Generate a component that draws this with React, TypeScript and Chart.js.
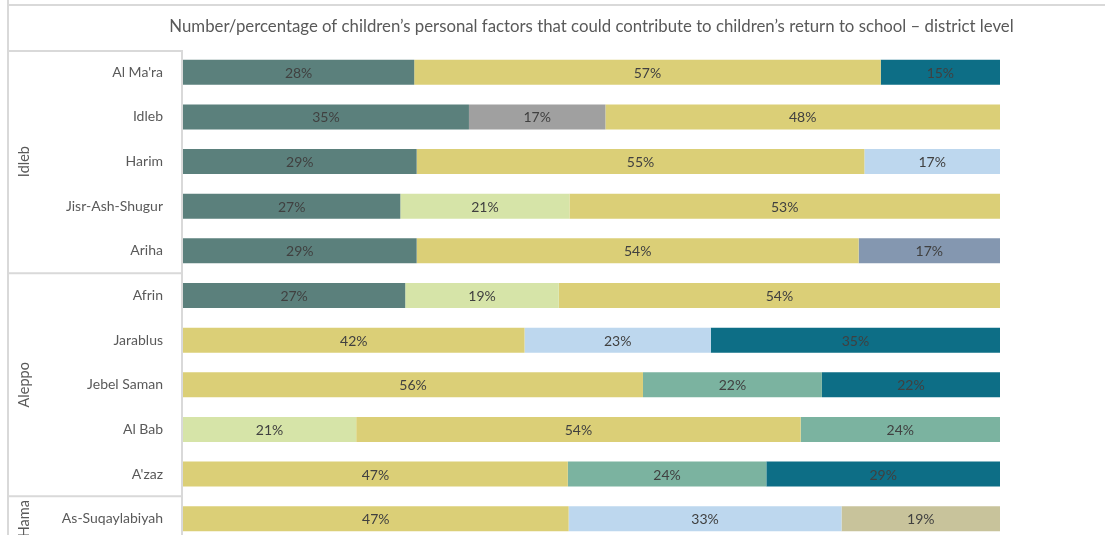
import React, { useEffect, useRef } from "react";
import { Chart, registerables } from "chart.js";

Chart.register(...registerables);

const titleText =
  "Number/percentage of children’s personal factors that could contribute to children’s return to school – district level";

const districts = [
  "Al Ma'ra",
  "Idleb",
  "Harim",
  "Jisr-Ash-Shugur",
  "Ariha",
  "Afrin",
  "Jarablus",
  "Jebel Saman",
  "Al Bab",
  "A'zaz",
  "As-Suqaylabiyah",
];

const governorates = ["Idleb", "Aleppo", "Hama"];
const governorateFirst = [0, 5, 10];
const governorateLast = [4, 9, 10];

// Share (%) of each factor per district, in stacking order
const factorTealGrey = [28.3, 35.0, 28.6, 26.6, 28.6, 27.2, null, null, null, null, null];
const factorGrey = [null, 16.7, null, null, null, null, null, null, null, null, null];
const factorLightGreen = [null, null, null, 20.7, null, 18.8, null, null, 21.2, null, null];
const factorYellow = [57.1, 48.3, 54.8, 52.7, 54.1, 54.0, 41.8, 56.3, 54.4, 47.1, 47.2];
const factorLightBlue = [null, null, 16.6, null, null, null, 22.8, null, null, null, 33.4];
const factorSlate = [null, null, null, null, 17.3, null, null, null, null, null, null];
const factorGreen = [null, null, null, null, null, null, null, 21.9, 24.4, 24.3, null];
const factorDarkTeal = [14.6, null, null, null, null, null, 35.4, 21.8, null, 28.6, null];
const factorKhaki = [null, null, null, null, null, null, null, null, null, null, 19.4];

const seriesNames = ["Factor 1","Factor 2","Factor 3","Factor 4","Factor 5","Factor 6","Factor 7","Factor 8","Factor 9"];
const seriesValues = [factorTealGrey, factorGrey, factorLightGreen, factorYellow, factorLightBlue, factorSlate, factorGreen, factorDarkTeal, factorKhaki];
const seriesColors = ["#5b807c","#a0a0a0","#d6e4a8","#dbcf77","#bdd7ee","#8497b0","#7bb3a0","#0d6e86","#c8c39b"];

const FONT = "Lato, 'Open Sans', sans-serif";

const framePlugin = {
  id: "frame",
  beforeDraw(chart: any) {
    const ctx = chart.ctx;
    const area = chart.chartArea;
    const y = chart.scales.y;
    const band = y.getPixelForValue(1) - y.getPixelForValue(0);
    ctx.save();
    ctx.strokeStyle = "#d9d9d9";
    ctx.lineWidth = 2;
    ctx.beginPath();
    ctx.moveTo(8, 0);
    ctx.lineTo(8, chart.height);
    ctx.moveTo(8, 5);
    ctx.lineTo(chart.width, 5);
    ctx.moveTo(182, area.top);
    ctx.lineTo(182, chart.height);
    ctx.moveTo(8, area.top + 1);
    ctx.lineTo(182, area.top + 1);
    for (let g = 0; g < governorates.length - 1; g++) {
      const bottom = y.getPixelForValue(governorateLast[g]) + band / 2;
      ctx.moveTo(8, bottom);
      ctx.lineTo(182, bottom);
    }
    ctx.stroke();
    // title, centred over the plot area
    ctx.fillStyle = "#595959";
    ctx.font = `16.8px ${FONT}`;
    ctx.textAlign = "center";
    ctx.textBaseline = "alphabetic";
    ctx.fillText(titleText, (area.left + area.right) / 2, 32);
    // governorate labels
    ctx.font = `14.5px ${FONT}`;
    ctx.textBaseline = "middle";
    for (let g = 0; g < governorates.length; g++) {
      const top = y.getPixelForValue(governorateFirst[g]) - band / 2;
      const bottom = y.getPixelForValue(governorateLast[g]) + band / 2;
      ctx.save();
      ctx.translate(24, (top + bottom) / 2);
      ctx.rotate(-Math.PI / 2);
      ctx.fillText(governorates[g], 0, 0);
      ctx.restore();
    }
    ctx.restore();
  },
};

const valueLabelPlugin = {
  id: "valueLabels",
  afterDatasetsDraw(chart: any) {
    const ctx = chart.ctx;
    ctx.save();
    ctx.fillStyle = "#404040";
    ctx.font = `14px ${FONT}`;
    ctx.textAlign = "center";
    ctx.textBaseline = "middle";
    chart.data.datasets.forEach((ds: any, di: number) => {
      const meta = chart.getDatasetMeta(di);
      meta.data.forEach((el: any, i: number) => {
        const v = ds.data[i];
        if (v === null || v === undefined) return;
        const cx = (el.x + el.base) / 2;
        ctx.fillText(`${Math.round(v)}%`, cx, el.y + 1);
      });
    });
    ctx.restore();
  },
};

export default function App() {
  const ref = useRef<HTMLCanvasElement>(null);
  useEffect(() => {
    if (!ref.current) return;
    const chart = new Chart(ref.current, {
      type: "bar",
      data: {
        labels: districts,
        datasets: seriesNames.map((name, i) => ({
          label: name,
          data: seriesValues[i] as any,
          backgroundColor: seriesColors[i],
          borderWidth: 0,
          categoryPercentage: 1,
          barPercentage: 0.56,
        })),
      },
      options: {
        indexAxis: "y",
        responsive: false,
        animation: false,
        devicePixelRatio: 1,
        layout: { padding: { top: 50, bottom: 4, left: 0, right: 105 } },
        plugins: {
          legend: { display: false },
          tooltip: { enabled: false },
          title: { display: false },
        },
        scales: {
          x: { stacked: true, min: 0, max: 100, display: false },
          y: {
            stacked: true,
            grid: { display: false, drawTicks: false },
            border: { display: false },
            ticks: { color: "#595959", font: { family: FONT, size: 14 }, padding: 20 },
            afterFit(scale: any) {
              scale.width = 183;
              scale.paddingTop = 0;
              scale.paddingBottom = 0;
            },
          },
        },
      },
      plugins: [framePlugin, valueLabelPlugin],
    });
    return () => chart.destroy();
  }, []);
  return (
    <div style={{ position: "absolute", left: 0, top: 0, width: 1105, height: 545, background: "#fff" }}>
      <canvas ref={ref} width={1105} height={545} style={{ display: "block" }} />
    </div>
  );
}
